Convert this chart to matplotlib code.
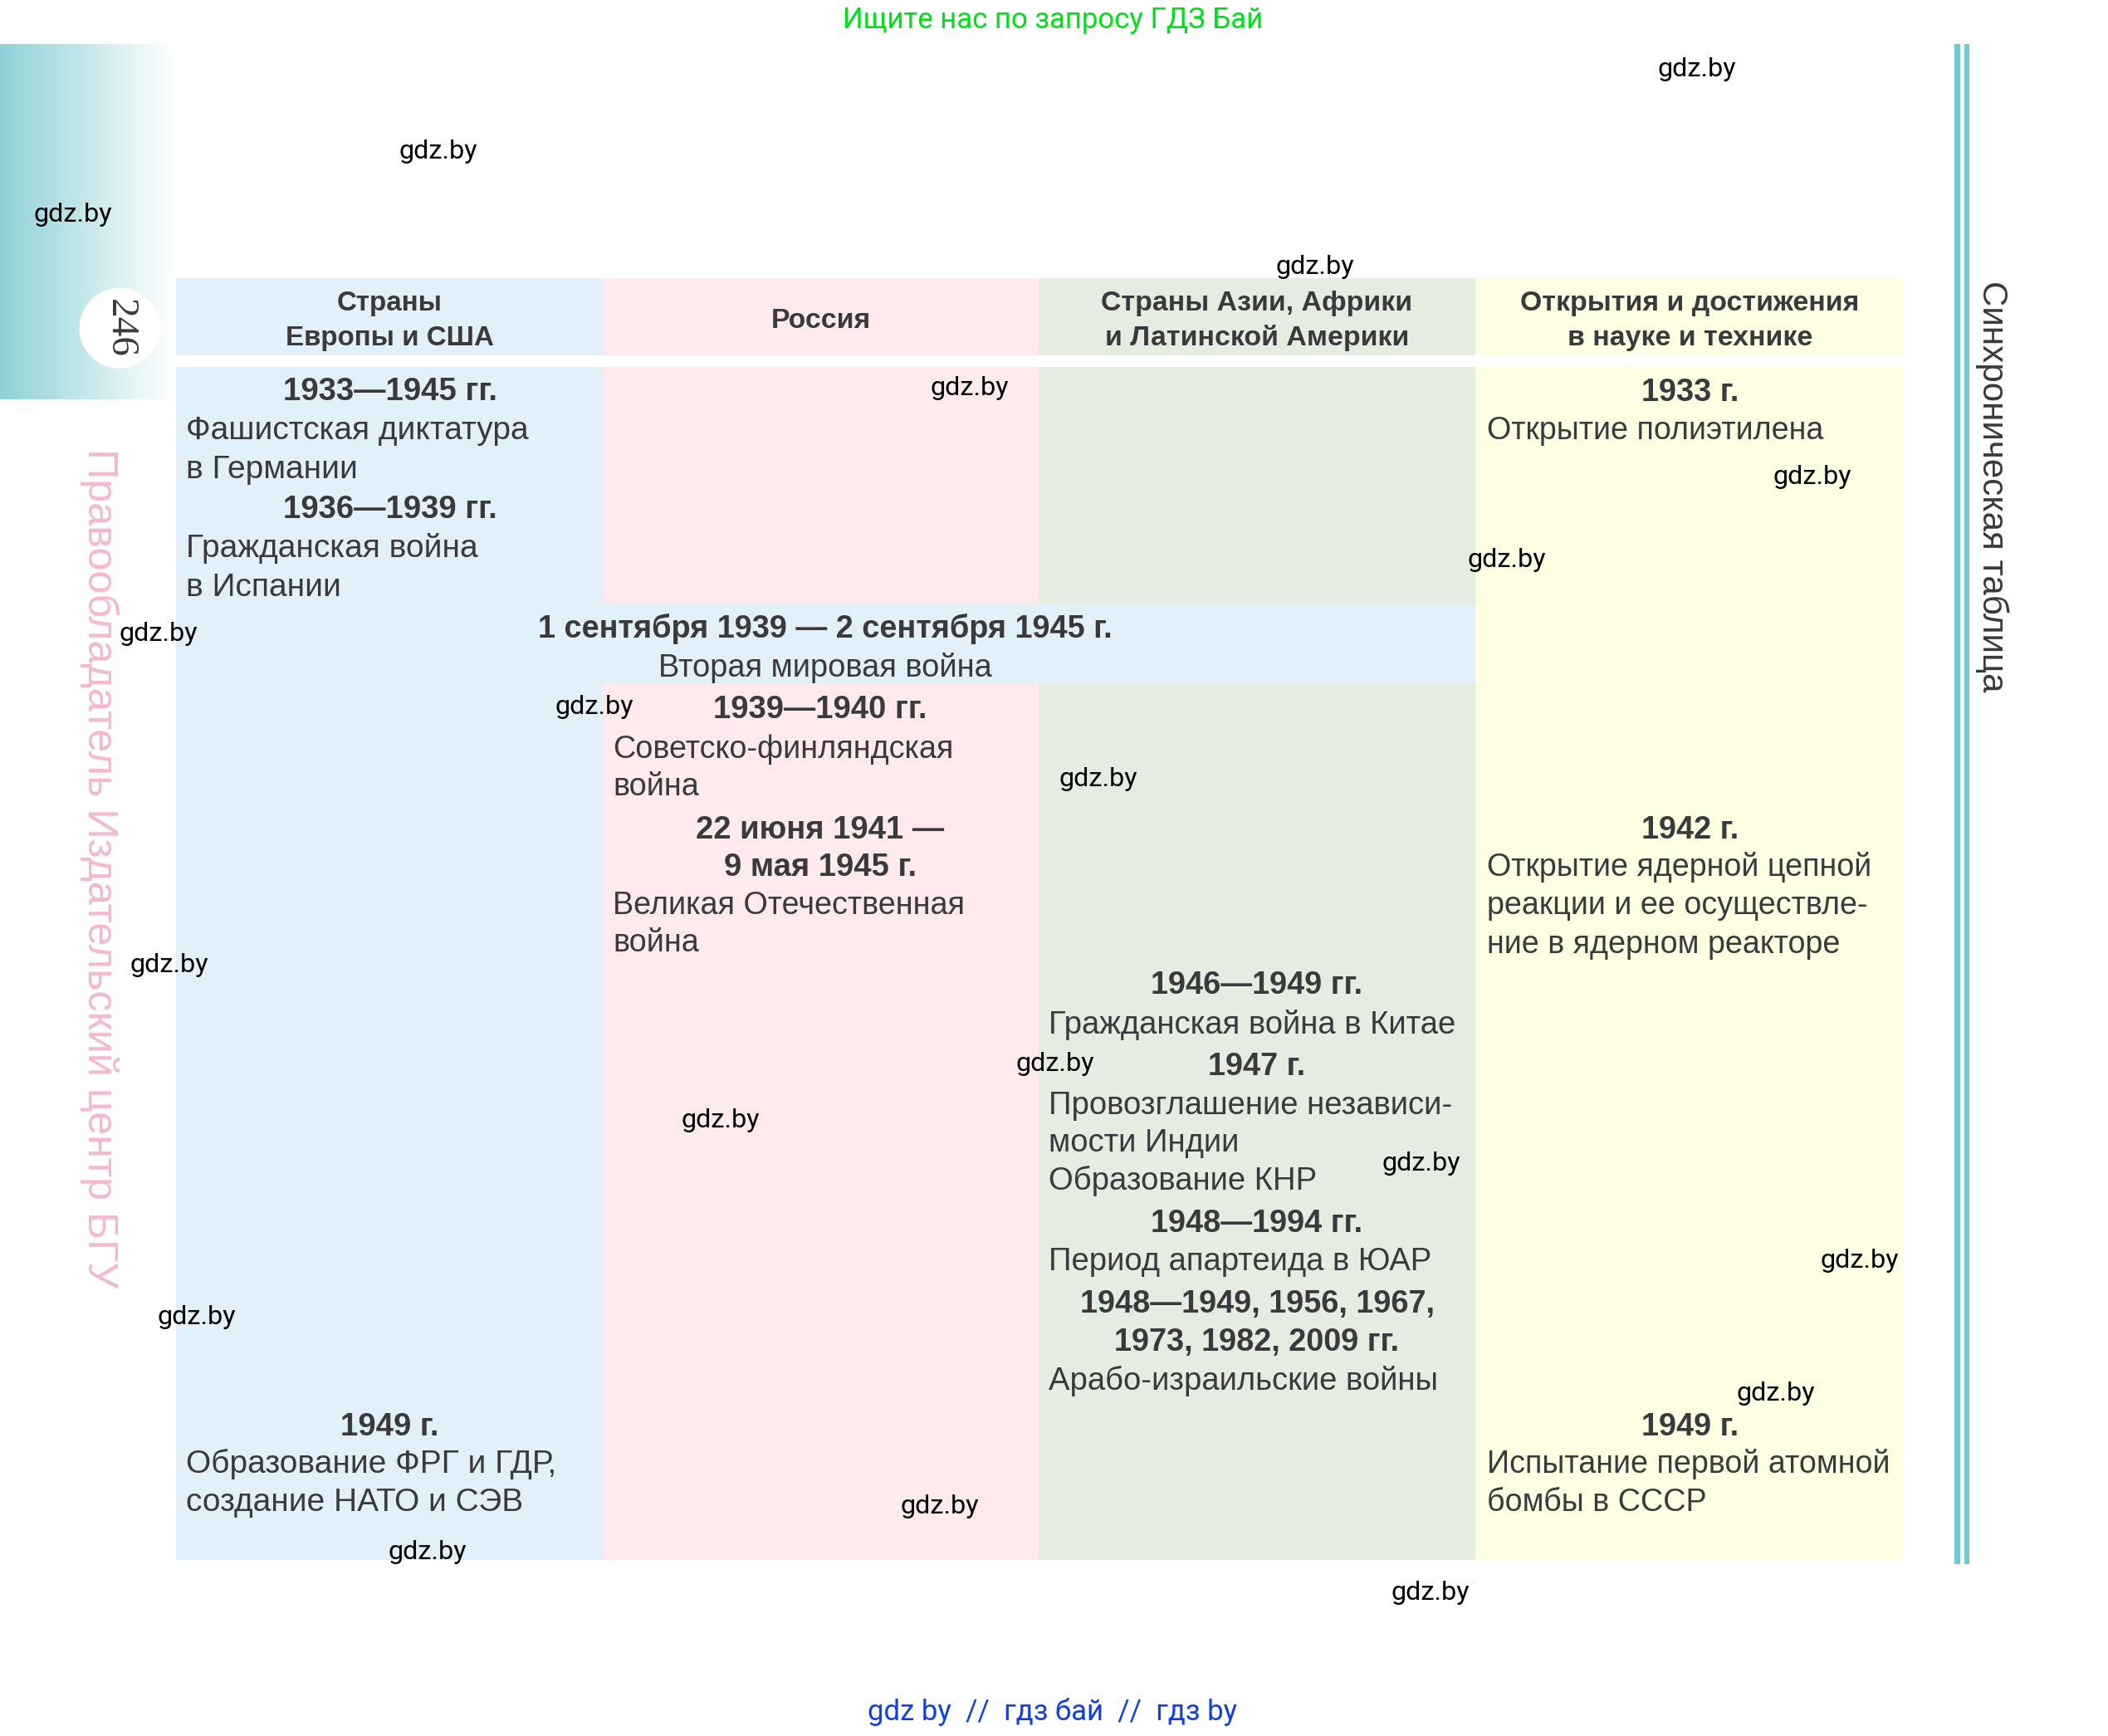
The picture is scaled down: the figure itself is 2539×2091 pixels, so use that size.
import numpy as np
import matplotlib
matplotlib.use("Agg")
import matplotlib.pyplot as plt
from matplotlib.colors import LinearSegmentedColormap
from matplotlib.patches import Ellipse

# Table content
col_edges = [131, 448.4, 772.6, 1097.4, 1415.4]
col_colors = ["#e1f0f9", "#fee9ed", "#e4ede0", "#fefee3"]
headers = [["Страны", "Европы и США"], ["Россия"],
           ["Страны Азии, Африки", "и Латинской Америки"],
           ["Открытия и достижения", "в науке и технике"]]
header_y = [[224, 250], [237], [224, 250], [224, 250]]
col_center = [290, 610, 935, 1257]
col_left = [138.5, 456, 780, 1106]

col1 = [("b", 290, "1933—1945 гг."), ("r", 319, "Фашистская диктатура"), ("r", 348, "в Германии"),
        ("b", 378, "1936—1939 гг."), ("r", 407, "Гражданская война"), ("r", 436, "в Испании"),
        ("b", 1060, "1949 г."), ("r", 1088, "Образование ФРГ и ГДР,"), ("r", 1116, "создание НАТО и СЭВ")]
col2 = [("b", 527, "1939—1940 гг."), ("r", 556, "Советско-финляндская"), ("r", 584, "война"),
        ("b", 616, "22 июня 1941 —"), ("b", 644, "9 мая 1945 г."),
        ("r", 672, "Великая Отечественная"), ("r", 700, "война")]
col3 = [("b", 732, "1946—1949 гг."), ("r", 761, "Гражданская война в Китае"),
        ("b", 792, "1947 г."), ("r", 821, "Провозглашение независи-"), ("r", 849, "мости Индии"),
        ("r", 877, "Образование КНР"), ("b", 909, "1948—1994 гг."), ("r", 937, "Период апартеида в ЮАР"),
        ("b", 969, "1948—1949, 1956, 1967,"), ("b", 997, "1973, 1982, 2009 гг."),
        ("r", 1026, "Арабо-израильские войны")]
col4 = [("b", 291, "1933 г."), ("r", 319, "Открытие полиэтилена"),
        ("b", 616, "1942 г."), ("r", 644, "Открытие ядерной цепной"),
        ("r", 672, "реакции и ее осуществле-"), ("r", 701, "ние в ядерном реакторе"),
        ("b", 1060, "1949 г."), ("r", 1088, "Испытание первой атомной"), ("r", 1116, "бомбы в СССР")]
columns = [col1, col2, col3, col4]

war_title = "1 сентября 1939 — 2 сентября 1945 г."
war_text = "Вторая мировая война"
watermarks = [(326, 112.5), (54, 159.5), (1262, 51.5), (978, 198.5), (721, 288.5), (1348, 354.5), (1121, 416.5),
              (118, 471.5), (442, 525.5), (817, 579.5), (126, 717.5), (785, 791.5), (536, 833.5), (1057, 865.5),
              (1383, 937.5), (146, 979.5), (1321, 1036.5), (699, 1120.5), (318, 1154.5), (1064, 1184.5)]

INK = "#3a3a3d"
TEAL = "#72c9d0"
SANS = "Liberation Sans"
SIZE_R = [28.0, 27.2, 27.5, 27.1]
SIZE_B = [27.6, 27.5, 27.3, 27.3]
SIZE_H = [23.9, 24.4, 24.4, 24.4]
SIZE_W = 23.3

fig = plt.figure(figsize=(25.39, 20.91), dpi=100)
ax = fig.add_axes([0, 0, 1, 1])
ax.set_xlim(0, 1568)
ax.set_ylim(1291, 0)
ax.axis("off")

# Left gradient tab
cmap = LinearSegmentedColormap.from_list("tab", ["#8fd2d8", "#c6e8eb", "#ffffff"])
ax.imshow(np.linspace(0, 1, 256)[None, :], extent=(0, 129, 297, 33), cmap=cmap, aspect="auto", zorder=1)
ax.set_xlim(0, 1568)
ax.set_ylim(1291, 0)
ax.add_patch(Ellipse((89, 244), 59, 59, color="white", zorder=2))
ax.text(89, 244, "246", rotation=-90, family="Liberation Serif", fontsize=34, color=INK,
        ha="center", va="center", zorder=3)

# Table blocks
for i, c in enumerate(col_colors):
    x0, x1 = col_edges[i], col_edges[i + 1]
    ax.fill_between([x0, x1], 207, 264, color=c, lw=0, zorder=1)
    ax.fill_between([x0, x1], 273, 1160, color=c, lw=0, zorder=1)
ax.fill_between([col_edges[1], col_edges[3]], 449, 508, color=col_colors[0], lw=0, zorder=2)

# Double rule on the right
for x0, x1 in [(1454, 1458), (1461, 1465)]:
    ax.fill_between([x0, x1], 33, 1163, color=TEAL, lw=0, zorder=1)

for i, lines in enumerate(headers):
    for y, s in zip(header_y[i], lines):
        ax.text(col_center[i] + (1 if i == 1 else 0), y + 7, s, family=SANS, weight="bold", fontsize=SIZE_H[i],
                color=INK, ha="center", va="baseline", zorder=4)

for i, items in enumerate(columns):
    for kind, y, s in items:
        if kind == "b":
            ax.text(col_center[i], y + 7.3, s, family=SANS, weight="bold", fontsize=SIZE_B[i],
                    color=INK, ha="center", va="baseline", zorder=4)
        else:
            ax.text(col_left[i], y + 7.5, s, family=SANS, fontsize=SIZE_R[i],
                    color=INK, ha="left", va="baseline", zorder=4)

ax.text(614, 474, war_title, family=SANS, weight="bold", fontsize=27.3, color=INK,
        ha="center", va="baseline", zorder=4)
ax.text(614, 503, war_text, family=SANS, fontsize=27.4, color=INK, ha="center", va="baseline", zorder=4)

# Side captions
ax.text(74, 645.5, "Правообладатель Издательский центр БГУ", rotation=-90, family=SANS, fontsize=36.3,
        color="#f5b8cf", ha="center", va="center", zorder=3)
ax.text(1482, 361.5, "Синхроническая таблица", rotation=-90, family=SANS, fontsize=30.3,
        color=INK, ha="center", va="center", zorder=3)

# Site stamps
ax.text(783, 15, "Ищите нас по запросу ГДЗ Бай", family="Roboto", fontsize=25, color="#00e01a",
        ha="center", va="center", zorder=5)
ax.text(783, 1273, "gdz by  //  гдз бай  //  гдз by", family="Roboto", fontsize=25, color="#1040e0",
        ha="center", va="center", zorder=5)
for x, y in watermarks:
    ax.text(x, y, "gdz.by", family="Roboto", fontsize=SIZE_W, color="black", ha="center", va="center", zorder=5)

fig.savefig("out.png", dpi=100)
